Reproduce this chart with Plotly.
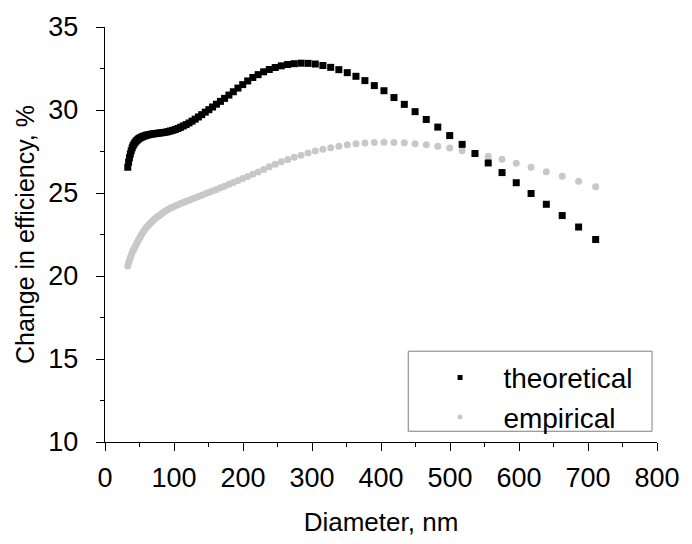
import plotly.graph_objects as go

# Diameter values (nm), shared by both series
diameter = [33.0, 34.2, 35.4, 36.7, 38.0, 39.4, 40.8, 42.2, 43.8, 45.3,
            47.0, 48.7, 50.4, 52.2, 54.1, 56.0, 58.0, 60.1, 62.3, 64.5,
            66.8, 69.2, 71.7, 74.3, 77.0, 79.7, 82.6, 85.6, 88.6, 91.8,
            95.1, 98.5, 102.1, 105.8, 109.6, 113.5, 117.6, 121.8, 126.2, 130.7,
            135.4, 140.2, 145.3, 150.5, 155.9, 161.5, 167.3, 173.3, 179.6, 186.0,
            192.7, 199.6, 206.8, 214.2, 221.9, 229.9, 238.1, 246.7, 255.5, 264.7,
            274.2, 284.1, 294.3, 304.8, 315.8, 327.1, 338.9, 351.1, 363.7, 376.7,
            390.3, 404.3, 418.8, 433.8, 449.4, 465.6, 482.3, 499.6, 517.6, 536.2,
            555.4, 575.4, 596.0, 617.5, 639.6, 662.6, 686.4, 711.1]

theoretical = [26.55, 26.85, 27.12, 27.35, 27.55, 27.72, 27.86, 27.97, 28.06, 28.14,
               28.20, 28.26, 28.31, 28.35, 28.39, 28.42, 28.45, 28.48, 28.50, 28.52,
               28.54, 28.56, 28.57, 28.59, 28.60, 28.62, 28.63, 28.65, 28.67, 28.70,
               28.74, 28.78, 28.83, 28.89, 28.96, 29.04, 29.12, 29.22, 29.33, 29.45,
               29.58, 29.72, 29.87, 30.02, 30.18, 30.35, 30.52, 30.70, 30.90, 31.10,
               31.32, 31.53, 31.75, 31.96, 32.13, 32.30, 32.44, 32.56, 32.66, 32.74,
               32.79, 32.82, 32.81, 32.77, 32.68, 32.57, 32.43, 32.25, 32.03, 31.77,
               31.47, 31.16, 30.75, 30.34, 29.90, 29.43, 28.97, 28.46, 27.93, 27.38,
               26.81, 26.23, 25.62, 24.97, 24.32, 23.64, 22.95, 22.20]

empirical = [20.60, 20.78, 20.95, 21.10, 21.25, 21.40, 21.53, 21.66, 21.79, 21.92,
             22.05, 22.18, 22.31, 22.44, 22.57, 22.70, 22.82, 22.93, 23.03, 23.13,
             23.23, 23.33, 23.43, 23.52, 23.60, 23.68, 23.77, 23.85, 23.94, 24.02,
             24.09, 24.16, 24.23, 24.29, 24.36, 24.43, 24.50, 24.57, 24.64, 24.71,
             24.79, 24.87, 24.95, 25.03, 25.12, 25.21, 25.31, 25.41, 25.52, 25.63,
             25.75, 25.87, 26.00, 26.13, 26.27, 26.42, 26.58, 26.73, 26.88, 27.02,
             27.15, 27.28, 27.41, 27.53, 27.64, 27.73, 27.82, 27.90, 27.96, 28.01,
             28.04, 28.05, 28.04, 28.02, 27.97, 27.91, 27.82, 27.71, 27.55, 27.38,
             27.22, 27.03, 26.79, 26.55, 26.28, 26.01, 25.71, 25.38]

series_names = ["theoretical", "empirical"]
x_ticks = [0, 100, 200, 300, 400, 500, 600, 700, 800]
y_ticks = [10, 15, 20, 25, 30, 35]

FONT = "Liberation Sans, Arial, sans-serif"
BLACK = "#000000"
GRAY = "rgb(200,200,200)"

fig = go.Figure()
fig.add_trace(go.Scatter(x=diameter, y=empirical, mode="markers",
                         marker=dict(symbol="circle", size=7, color=GRAY, line=dict(width=0)),
                         showlegend=False, hoverinfo="x+y"))
fig.add_trace(go.Scatter(x=diameter, y=theoretical, mode="markers",
                         marker=dict(symbol="square", size=7, color=BLACK, line=dict(width=0)),
                         showlegend=False, hoverinfo="x+y"))
# legend entries
pad = "\u00a0" * 3
fig.add_trace(go.Scatter(x=[None], y=[None], mode="markers", name=pad + series_names[0],
                         marker=dict(symbol="square", size=5, color=BLACK)))
fig.add_trace(go.Scatter(x=[None], y=[None], mode="markers", name=pad + series_names[1],
                         marker=dict(symbol="circle", size=5, color=GRAY)))

axis_common = dict(
    showline=True, linecolor=BLACK, linewidth=1.4, mirror=False,
    ticks="outside", ticklen=8, tickwidth=1.4, tickcolor=BLACK,
    showgrid=False, zeroline=False,
    tickfont=dict(family=FONT, size=27, color=BLACK),
)

fig.update_xaxes(range=[0, 800], tickvals=x_ticks, ticktext=[str(v) for v in x_ticks],
                 minor=dict(dtick=50, ticklen=4, tickwidth=1.4, tickcolor=BLACK, ticks="outside"),
                 ticklabelstandoff=3,
                 title=dict(text="Diameter, nm", font=dict(family=FONT, size=26, color=BLACK), standoff=21),
                 **axis_common)
fig.update_yaxes(range=[10, 35], tickvals=y_ticks, ticktext=[str(v) for v in y_ticks],
                 minor=dict(dtick=2.5, ticklen=4, tickwidth=1.4, tickcolor=BLACK, ticks="outside"),
                 ticklabelstandoff=12,
                 title=dict(text="Change in efficiency, %", font=dict(family=FONT, size=25, color=BLACK), standoff=6),
                 **axis_common)

fig.update_layout(
    width=692, height=544,
    margin=dict(l=105, r=30, t=24, b=95),
    paper_bgcolor="white", plot_bgcolor="white",
    legend=dict(x=0.607, y=0.215, xanchor="left", yanchor="top",
                bgcolor="rgba(0,0,0,0)", borderwidth=0,
                font=dict(family=FONT, size=28, color=BLACK),
                tracegroupgap=0),
    shapes=[dict(type="rect", xref="paper", yref="paper",
                 x0=(411 - 105) / 557, x1=(657 - 105) / 557,
                 y0=(449 - 438) / 425, y1=(449 - 356) / 425,
                 line=dict(color="#7f7f7f", width=1), fillcolor="rgba(0,0,0,0)")],
    showlegend=True,
)

fig.write_html("out.html")
